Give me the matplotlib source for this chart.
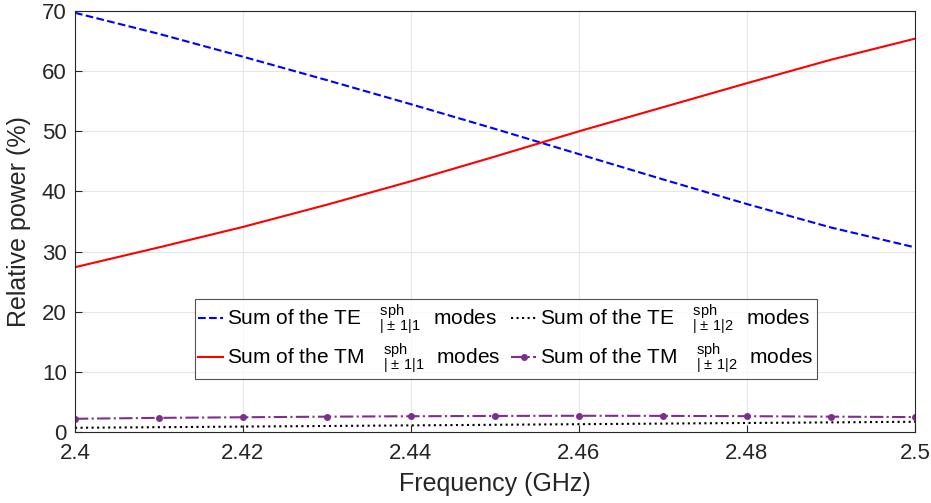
import matplotlib.pyplot as plt
import numpy as np

plt.rcParams['font.family'] = ['Liberation Sans', 'DejaVu Sans']
plt.rcParams['mathtext.fontset'] = 'custom'
plt.rcParams['mathtext.rm'] = 'Liberation Sans'

freq = [2.40, 2.41, 2.42, 2.43, 2.44, 2.45, 2.46, 2.47, 2.48, 2.49, 2.50]
te11 = [69.7, 66.2, 62.4, 58.5, 54.5, 50.4, 46.2, 42.0, 37.9, 34.0, 30.7]
tm11 = [27.4, 30.7, 34.1, 37.8, 41.7, 45.8, 50.0, 54.0, 58.0, 61.9, 65.4]
te12 = [0.7, 0.8, 0.9, 1.0, 1.1, 1.2, 1.3, 1.4, 1.5, 1.6, 1.7]
tm12 = [2.2, 2.35, 2.45, 2.55, 2.62, 2.67, 2.7, 2.68, 2.63, 2.55, 2.48]

lab = r'Sum of the %s $\ \ ^{\mathrm{sph}}_{|\pm\,1|%d}\ $ modes'

fig = plt.figure(figsize=(9.31, 5.03), dpi=100)
ax = fig.add_axes([75 / 931, 71 / 503, 840 / 931, 421 / 503])

ax.plot(freq, te11, '--', color='#0000ff', lw=1.5, label=lab % ('TE', 1))
ax.plot(freq, tm11, '-', color='#ff0000', lw=1.5, label=lab % ('TM', 1))
ax.plot(freq, te12, ':', color='black', lw=1.5, label=lab % ('TE', 2))
ax.plot(freq, tm12, '-.', color='#7e2f8e', lw=1.5, marker='o', ms=4,
        label=lab % ('TM', 2))

ax.set_xlim(2.4, 2.5)
ax.set_ylim(0, 70)
ax.set_xticks([2.4, 2.42, 2.44, 2.46, 2.48, 2.5])
ax.set_xticklabels(['2.4', '2.42', '2.44', '2.46', '2.48', '2.5'])
ax.set_yticks(range(0, 71, 10))
ax.grid(True, color='#e6e6e6', lw=0.8)
ax.set_axisbelow(True)
ax.tick_params(direction='in', labelsize=16, colors='#262626', length=5, pad=6)
ax.tick_params(axis='x', pad=8)
for s in ax.spines.values():
    s.set_color('#262626')
ax.set_xlabel('Frequency (GHz)', fontsize=18, color='#262626', labelpad=6)
ax.set_ylabel('Relative power (%)', fontsize=18, color='#262626', labelpad=8)

leg = ax.legend(ncol=2, loc='lower left', bbox_to_anchor=(120 / 840, 53 / 421),
                fontsize=15, frameon=True, fancybox=False, edgecolor='#262626',
                handlelength=1.2, handletextpad=0.2, columnspacing=0.5,
                borderpad=0.15, labelspacing=0.2, borderaxespad=0)
leg.get_frame().set_linewidth(0.8)

fig.savefig('out.png', dpi=100)
